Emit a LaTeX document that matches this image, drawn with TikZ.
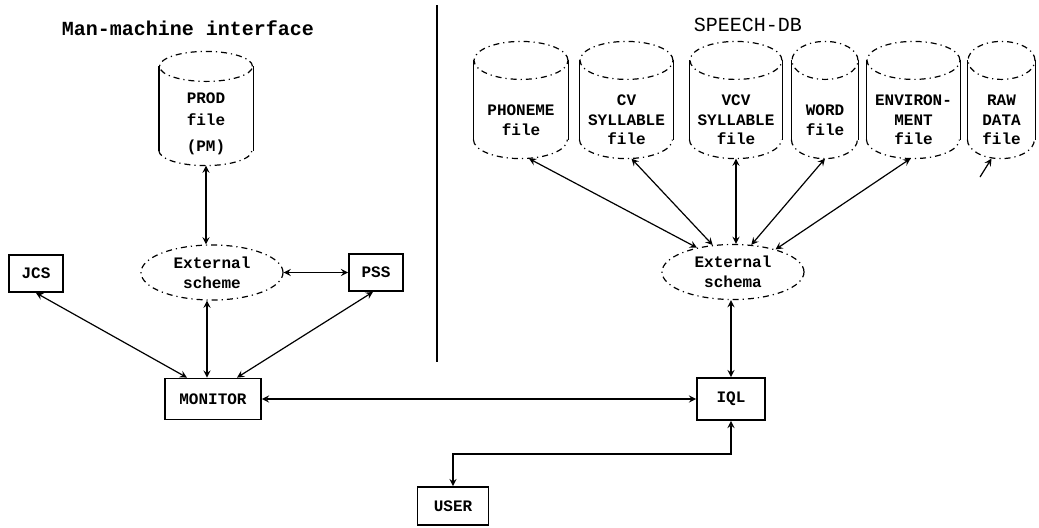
\documentclass[tikz,border=0pt]{standalone}
\usepackage{fontspec}
\newfontfamily\typefont{Liberation Mono}
\usetikzlibrary{shapes,arrows,positioning,calc}

% cylinder outline round a named body node: name, half width, cap radius
\newcommand{\cylfile}[3]{%
  \draw[dash dot] ([yshift=-#3]#1.north) ellipse [x radius=#2, y radius=#3];
  \draw ([yshift=-#3]#1.north west) -- ([yshift=#3]#1.south west);
  \draw ([yshift=-#3]#1.north east) -- ([yshift=#3]#1.south east);
  \draw[dash dot] ([yshift=#3]#1.south west) arc [start angle=180, end angle=360, x radius=#2, y radius=#3];
}

\begin{document}
\begin{tikzpicture}[x=0.5pt, y=-0.5pt, >=stealth, line width=0.6pt,
    font=\typefont\bfseries\fontsize{8}{9.8}\selectfont]
        \tikzstyle{box} = [rectangle, draw, line width=0.9pt, inner sep=0pt, minimum width=27pt, minimum height=18.5pt]
        \tikzstyle{scheme} = [ellipse, draw, dash dot, inner sep=0pt, minimum width=71pt, minimum height=27.5pt, align=center]
        \tikzstyle{filebody} = [rectangle, inner sep=0pt, minimum height=58pt]
        \tikzstyle{filetext} = [align=center, inner sep=0pt]
        \tikzstyle{link} = [draw, <->]

        \useasboundingbox (0,0) rectangle (1039,527);

        % Titles and separator
        \node (mmititle) at (188,28) {\fontsize{10}{12}\selectfont Man-machine interface};
        \node (dbtitle) at (748,25) {\mdseries\fontsize{10}{12}\selectfont SPEECH-DB};
        \coordinate (septop) at (437,5);
        \coordinate (sepbot) at (437,362);
        \draw[line width=0.7pt] (septop) -- (sepbot);

        % Man-machine interface side
        \node [filebody, minimum width=46.5pt, minimum height=56.5pt] (prod) at (206,108.5) {};
        \node [filetext, font=\typefont\bfseries\fontsize{8}{11}\selectfont] (prodtext) at ([yshift=-7.75pt]prod.center) {PROD\\file\\[2pt](PM)};
        \cylfile{prod}{23.25pt}{7.5pt}
        \node [scheme] (extL) at (212,272.5) {External\\scheme};
        \node [box] (jcs) at (36,273.5) {JCS};
        \node [box] (pss) at (376,272.5) {PSS};
        \node [box, minimum width=48pt, minimum height=20.5pt] (monitor) at (213,399) {MONITOR};

        % SPEECH-DB side
        \foreach \nm/\cx/\hw/\txt in {phon/521/23.5/{PHONEME\\file},
                                   cv/626.5/23.25/{CV\\SYLLABLE\\file},
                                   vcv/736/23/{VCV\\SYLLABLE\\file},
                                   word/825/16.5/{WORD\\file},
                                   env/913.5/23.25/{ENVIRON-\\MENT\\file},
                                   raw/1001.5/16.75/{RAW\\DATA\\file}}{
            \node [filebody, minimum width=2*\hw pt] (\nm) at (\cx,100) {};
            \node [filetext] (\nm text) at ([yshift=-10pt]\nm.center) {\txt};
            \cylfile{\nm}{\hw pt}{9.5pt}
        }
        \node [scheme] (extR) at (733,272) {External\\schema};
        \node [box, minimum width=34pt, minimum height=21pt] (iql) at (731,399) {IQL};
        \node [box, minimum width=35.5pt, minimum height=19pt] (user) at (453,506) {USER};
        \coordinate (userturn) at (453,454);
        \coordinate (rawtail) at (980,177);

        % Paths
        \path [link] (prod.south) -- (prod.south |- extL.north);
        \path [link] (extL.east) -- (pss.west);
        \path [link] (jcs.south) -- ([xshift=-13pt]monitor.north);
        \path [link] ([xshift=-3pt]monitor.north) -- ([xshift=-3pt]monitor.north |- extL.south);
        \path [link] ([xshift=-1.5pt]pss.south) -- ([xshift=12pt]monitor.north);
        \path [link] (monitor.east) -- (iql.west);
        \path [link] (iql.north) -- (iql.north |- extR.south);
        \path [link] (user.north) -- (userturn) -| (iql.south);
        \path [link] ([xshift=4pt]phon.south) -- (extR.146);
        \path [link] ([xshift=2.5pt]cv.south) -- (extR.127);
        \path [link] (vcv.south) -- (vcv.south |- extR.north);
        \path [link] (word.south) -- (extR.56);
        \path [link] ([xshift=-1.5pt]env.south) -- (extR.28);
        \path [draw, ->] (rawtail) -- ([xshift=-5pt]raw.south);
\end{tikzpicture}
\end{document}
